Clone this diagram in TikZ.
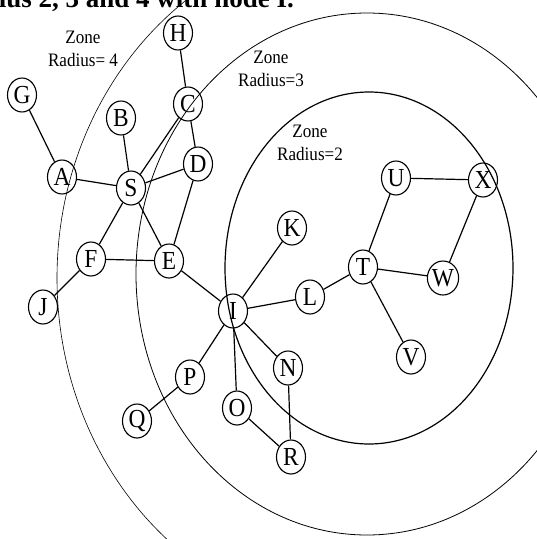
\documentclass[tikz,border=0pt]{standalone}
\usepackage{fontspec}
\setmainfont{Liberation Serif}
\newfontfamily\nodefont[FakeStretch=0.9]{Liberation Serif}
\newfontfamily\lblfont[FakeStretch=0.9]{Liberation Serif}
\usetikzlibrary{shapes.geometric}
\begin{document}
\begin{tikzpicture}[x=1pt,y=-1pt,
  vtx/.style={ellipse, draw, line width=1.1pt, minimum width=29pt, minimum height=34pt, inner sep=0pt, font=\nodefont\fontsize{26}{26}\selectfont},
  edge/.style={line width=1.2pt},
  zonelbl/.style={align=center, font=\lblfont\fontsize{19}{23}\selectfont},
  zoneline/.style={draw=black}]
\useasboundingbox (0,0) rectangle (537,539);
\clip (0,0) rectangle (537,539);
% caption (cut at top)
\node[anchor=base east, inner sep=0pt, font=\bfseries\fontsize{27}{27}\selectfont] (cap) at (294,7) {Zones of radius 2, 3 and 4 with node I.};
% zones
\draw[zoneline, line width=1.2pt] (369,268) ellipse [x radius=144pt, y radius=176pt];
\draw[zoneline, line width=0.8pt] (367,274) ellipse [x radius=231pt, y radius=261pt];
\draw[zoneline, line width=0.6pt] (367,278) ellipse [x radius=310pt, y radius=342pt];
\node[zonelbl] (z4) at (83,49) {Zone\\Radius= 4};
\node[zonelbl] (z3) at (271,69) {Zone\\Radius=3};
\node[zonelbl] (z2) at (310,143) {Zone\\Radius=2};
% nodes
\node[vtx] (H) at (178,33) {H};
\node[vtx] (C) at (188,104) {C};
\node[vtx] (G) at (22,95) {G};
\node[vtx] (B) at (121,118) {B};
\node[vtx] (D) at (198,164) {D};
\node[vtx] (A) at (62,177) {A};
\node[vtx] (S) at (131,188) {S};
\node[vtx] (F) at (91,259) {F};
\node[vtx] (E) at (169,261) {E};
\node[vtx] (J) at (43,307) {J};
\node[vtx] (I) at (233,311) {I};
\node[vtx] (K) at (292,228) {K};
\node[vtx] (L) at (310,297) {L};
\node[vtx] (T) at (363,267) {T};
\node[vtx] (U) at (396,178) {U};
\node[vtx] (X) at (483,180) {X};
\node[vtx] (W) at (443,278) {W};
\node[vtx] (V) at (411,357) {V};
\node[vtx] (N) at (288,368) {N};
\node[vtx] (P) at (190,377) {P};
\node[vtx] (O) at (237,408) {O};
\node[vtx] (Q) at (137,421) {Q};
\node[vtx] (R) at (291,457) {R};
% edges
\draw[edge] (H)--(C) (G)--(A) (A)--(S) (B)--(S) (S)--(C) (S)--(D) (C)--(D)
  (S)--(E) (S)--(F) (F)--(E) (F)--(J) (D)--(E) (E)--(I)
  (I)--(K) (I)--(L) (L)--(T) (T)--(U) (U)--(X) (X)--(W) (T)--(W) (T)--(V)
  (I)--(N) (N)--(R) (I)--(O) (O)--(R) (I)--(P) (P)--(Q);
\end{tikzpicture}
\end{document}
